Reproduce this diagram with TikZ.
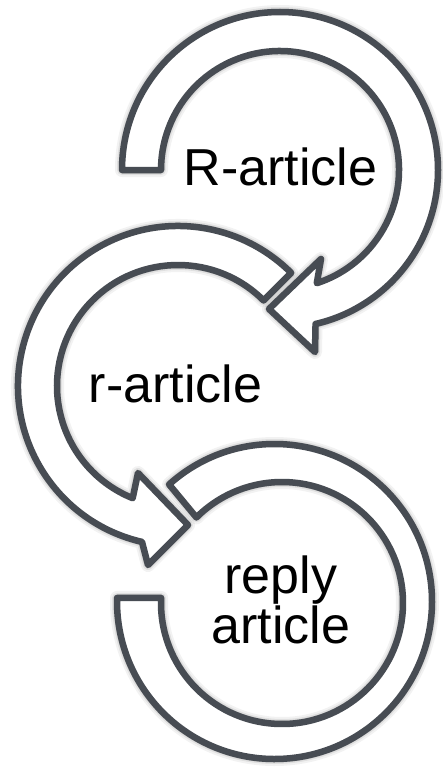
\documentclass[tikz,border=0pt]{standalone}
\usepackage{fontspec}
\setmainfont{Liberation Sans}
\definecolor{edge}{HTML}{474C53}
\tikzset{
  ring/.style={draw=edge, line width=6.5pt, fill=white, line join=round},
  shadowa/.style={draw=black, draw opacity=0.05, line width=14pt, line join=round},
  shadowb/.style={draw=black, draw opacity=0.07, line width=10pt, line join=round},
  shadowc/.style={fill=black, fill opacity=0.10, draw=black, draw opacity=0.10, line width=7pt, line join=round},
  lbl/.style={font=\fontsize{52}{43}\selectfont, align=center, inner sep=0pt, text=black}
}
\begin{document}
\begin{tikzpicture}[x=1pt, y=-1pt]
\useasboundingbox (0,0) rectangle (443,768);
\fill[white] (0,0) rectangle (443,768);
% centres
\coordinate (c1) at (280,170);
\coordinate (c2) at (178,386);
\coordinate (c3o) at (274.5,601.5);
\coordinate (c3i) at (282,603);
% arrow heads
\coordinate (h1a) at (321,259);
\coordinate (h1t) at (269,309);
\coordinate (h1b) at (315,352);
\coordinate (h2a) at (138,473);
\coordinate (h2t) at (188,525);
\coordinate (h2b) at (148,565);
\def\arrowone{([shift={(180:158)}]c1) arc[start angle=180, end angle=437, radius=158] -- (h1b) -- (h1t) -- (h1a) -- ([shift={(72:119)}]c1) arc[start angle=72, end angle=-180, radius=119] -- cycle}
\def\arrowtwo{([shift={(103:160)}]c2) arc[start angle=103, end angle=315, radius=160] -- ([shift={(315:121)}]c2) arc[start angle=315, end angle=112, radius=121] -- (h2a) -- (h2t) -- (h2b) -- cycle}
\def\arrowthree{([shift={(228:157.5)}]c3o) arc[start angle=228, end angle=541.3, radius=157.5] -- ([shift={(182.4:121)}]c3i) arc[start angle=542.4, end angle=225, radius=121] -- cycle}
% soft shadows
\begin{scope}[shift={(3,5)}]
\foreach \s in {shadowa,shadowb,shadowc}{
  \path[\s] \arrowone;
  \path[\s] \arrowtwo;
  \path[\s] \arrowthree;
}
\end{scope}
% rings
\path[ring] \arrowone;
\path[ring] \arrowtwo;
\path[ring] \arrowthree;
% labels
\node[lbl, anchor=base] (t1) at (280.5,185) {R-article};
\node[lbl, anchor=base] (t2) at (175.5,402) {r-article};
\node[lbl, anchor=center] (t3) at (281,600) {reply\\article};
\end{tikzpicture}
\end{document}
